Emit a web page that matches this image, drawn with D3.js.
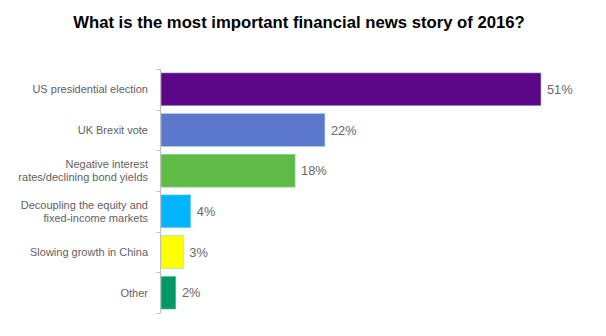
<!DOCTYPE html>
<html>
<head>
<meta charset="utf-8">
<script src="https://cdn.jsdelivr.net/npm/d3@7"></script>
<style>
  html, body { margin: 0; padding: 0; background: #fff; }
  svg { display: block; }
</style>
</head>
<body>
<svg id="chart" width="606" height="336"></svg>
<script>
// Survey answers, top to bottom
const categories = [
  ["US presidential election"],
  ["UK Brexit vote"],
  ["Negative interest", "rates/declining bond yields"],
  ["Decoupling the equity and", "fixed-income markets"],
  ["Slowing growth in China"],
  ["Other"]
];
const values = [51, 22, 18, 4, 3, 2];
const colors = ["#5b0787", "#5b78cc", "#5fba46", "#00b4ff", "#ffff00", "#009966"];
const titleText = "What is the most important financial news story of 2016?";

const svg = d3.select("#chart");
const axisX = 160.5;

const x = d3.scaleLinear().domain([0, 51]).range([axisX + 0.5, 541]);
const y = d3.scaleBand()
  .domain(d3.range(categories.length))
  .range([69, 313])
  .paddingInner(0.19)
  .paddingOuter(0.095);

// Title
svg.append("text")
  .attr("x", 299)
  .attr("y", 28)
  .attr("text-anchor", "middle")
  .attr("font-family", "Arial, 'Liberation Sans', sans-serif")
  .attr("font-weight", "bold")
  .attr("font-size", 16.7)
  .attr("fill", "#000")
  .text(titleText);

// Bars
svg.append("g").selectAll("rect")
  .data(values)
  .join("rect")
  .attr("x", x(0))
  .attr("y", (d, i) => y(i))
  .attr("width", d => x(d) - x(0))
  .attr("height", y.bandwidth())
  .attr("fill", (d, i) => colors[i])
  .attr("stroke", "#9fd6d6")
  .attr("stroke-width", 0.6);

// Category axis: line with ticks at band boundaries
const axis = svg.append("g").attr("stroke", "#bfbfbf").attr("stroke-width", 1);
const r = y.range();
axis.append("line")
  .attr("x1", axisX).attr("x2", axisX)
  .attr("y1", r[0]).attr("y2", r[1]);
axis.selectAll("line.tick")
  .data(d3.range(categories.length + 1))
  .join("line")
  .attr("class", "tick")
  .attr("x1", axisX - 4).attr("x2", axisX)
  .attr("y1", i => Math.round(r[0] + i * y.step()) + 0.5)
  .attr("y2", i => Math.round(r[0] + i * y.step()) + 0.5);

// Category labels
const lineH = 13;
const labels = svg.append("g")
  .attr("font-family", "Arial, 'Liberation Sans', sans-serif")
  .attr("font-size", 11)
  .attr("fill", "#5f5f5f")
  .attr("text-anchor", "end");
categories.forEach((lines, i) => {
  const cy = y(i) + y.bandwidth() / 2;
  const t = labels.append("text")
    .attr("x", 148)
    .attr("y", cy - (lines.length - 1) * lineH / 2);
  lines.forEach((ln, j) => {
    t.append("tspan")
      .attr("x", 148)
      .attr("dy", j === 0 ? "0.35em" : lineH)
      .text(ln);
  });
});

// Value labels
svg.append("g")
  .attr("font-family", "Arial, 'Liberation Sans', sans-serif")
  .attr("font-size", 12.8)
  .attr("fill", "#666")
  .selectAll("text")
  .data(values)
  .join("text")
  .attr("x", d => x(d) + 6)
  .attr("y", (d, i) => y(i) + y.bandwidth() / 2)
  .attr("dy", "0.36em")
  .text(d => d + "%");
</script>
</body>
</html>
